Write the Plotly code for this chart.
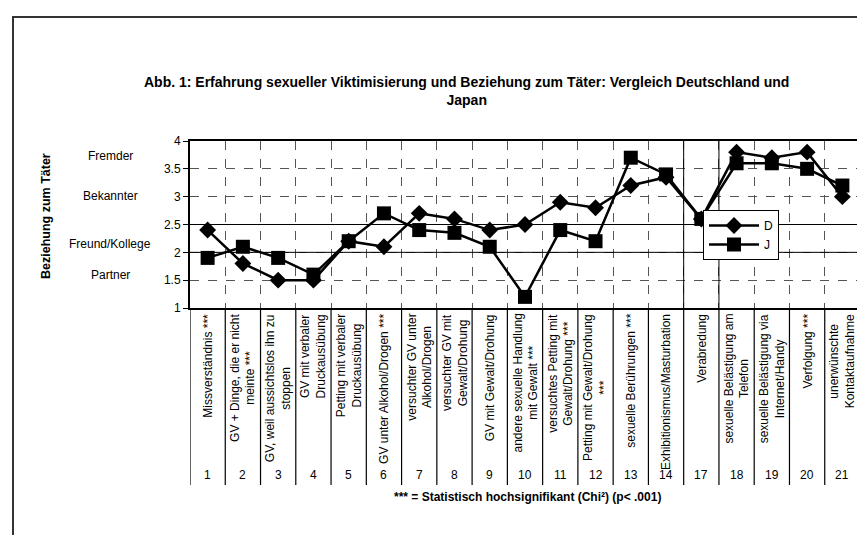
import plotly.graph_objects as go

# ---------------- data ----------------
numbers = ["1", "2", "3", "4", "5", "6", "7", "8", "9", "10", "11", "12", "13", "14",
           "17", "18", "19", "20", "21"]
categories = [
    "Missverständnis ***",
    "GV + Dinge, die er nicht<br>meinte ***",
    "GV, weil aussichtslos ihn zu<br>stoppen",
    "GV mit verbaler<br>Druckausübung",
    "Petting mit verbaler<br>Druckausübung",
    "GV unter Alkohol/Drogen ***",
    "versuchter GV unter<br>Alkohol/Drogen",
    "versuchter GV mit<br>Gewalt/Drohung",
    "GV mit Gewalt/Drohung",
    "andere sexuelle Handlung<br>mit Gewalt ***",
    "versuchtes Petting mit<br>Gewalt/Drohung ***",
    "Petting mit Gewalt/Drohung<br>***",
    "sexuelle Berührungen ***",
    "Exhibitionismus/Masturbation",
    "Verabredung",
    "sexuelle Belästigung am<br>Telefon",
    "sexuelle Belästigung via<br>Internet/Handy",
    "Verfolgung ***",
    "unerwünschte<br>Kontaktaufnahme",
]
D_values = [2.4, 1.8, 1.5, 1.5, 2.2, 2.1, 2.7, 2.6, 2.4, 2.5, 2.9, 2.8, 3.2, 3.35,
            2.6, 3.8, 3.7, 3.8, 3.0]
J_values = [1.9, 2.1, 1.9, 1.6, 2.2, 2.7, 2.4, 2.35, 2.1, 1.2, 2.4, 2.2, 3.7, 3.4,
            2.6, 3.6, 3.6, 3.5, 3.2]
y_ticks = [1, 1.5, 2, 2.5, 3, 3.5, 4]
y_ticktext = ["1", "1.5", "2", "2.5", "3", "3.5", "4"]
relation_labels = ["Fremder", "Bekannter", "Freund/Kollege", "Partner"]
relation_pos = [3.73, 3.01, 2.15, 1.6]

title_text = ("Abb. 1: Erfahrung sexueller Viktimisierung und Beziehung zum Täter: "
              "Vergleich Deutschland und<br>Japan")
footnote = "*** = Statistisch hochsignifikant (Chi²) (p< .001)"
y_title = "Beziehung zum Täter"

# ---------------- layout geometry (pixels) ----------------
W, H = 865, 535
L, R, T, B = 182, 852, 133, 300
PW, PH = R - L, B - T


def px_x(px):
    return (px - L) / PW


def px_y(py):
    return (B - py) / PH


FONT = "Liberation Sans, Arial, sans-serif"
keys = [str(i) for i in range(len(numbers))]

fig = go.Figure()
fig.add_trace(go.Scatter(
    x=keys, y=D_values, name="D", mode="lines+markers",
    line=dict(color="black", width=2.5),
    marker=dict(symbol="diamond", size=13, color="black"),
))
fig.add_trace(go.Scatter(
    x=keys, y=J_values, name="J", mode="lines+markers",
    line=dict(color="black", width=2.5),
    marker=dict(symbol="square", size=14, color="black"),
))

shapes = []
# solid horizontal gridlines
for yv in [2, 2.5]:
    shapes.append(dict(type="line", xref="paper", yref="y", x0=0, x1=1, y0=yv, y1=yv,
                       line=dict(color="black", width=1)))
# solid vertical gridlines
for xv in [13.5, 14.5]:
    shapes.append(dict(type="line", xref="x", yref="paper", x0=xv, x1=xv, y0=0, y1=1,
                       line=dict(color="black", width=1)))
# table column lines below plot
for k in range(len(numbers) + 1):
    xv = k - 0.5
    shapes.append(dict(type="line", xref="x", yref="paper", x0=xv, x1=xv,
                       y0=px_y(477), y1=0, line=dict(color="black", width=1.2)))
# outer frame
shapes.append(dict(type="rect", xref="paper", yref="paper",
                   x0=px_x(5), x1=px_x(880), y0=px_y(560), y1=px_y(9),
                   line=dict(color="#333", width=2)))

annotations = []
annotations.append(dict(text="<b>" + title_text + "</b>", xref="paper", yref="paper",
                        x=px_x(458), y=px_y(64), xanchor="center", yanchor="top",
                        showarrow=False, font=dict(family=FONT, size=14, color="black")))
annotations.append(dict(text="<b>" + footnote + "</b>", xref="paper", yref="paper",
                        x=px_x(519), y=px_y(489), xanchor="center", yanchor="middle",
                        showarrow=False, font=dict(family=FONT, size=12, color="black")))
annotations.append(dict(text="<b>" + y_title + "</b>", xref="paper", yref="paper",
                        x=px_x(38), y=px_y(208), xanchor="center", yanchor="middle",
                        textangle=-90, showarrow=False,
                        font=dict(family=FONT, size=12.5, color="black")))
for lab, pos in zip(relation_labels, relation_pos):
    annotations.append(dict(text=lab, xref="paper", yref="y", x=px_x(102), y=pos,
                            xanchor="center", yanchor="middle", showarrow=False,
                            font=dict(family=FONT, size=12, color="black")))
for k, (cat, num) in enumerate(zip(categories, numbers)):
    annotations.append(dict(text=cat, xref="x", yref="paper", x=keys[k], y=px_y(304),
                            xanchor="center", yanchor="top", textangle=-90, align="center",
                            showarrow=False, font=dict(family=FONT, size=12, color="black")))
    annotations.append(dict(text=num, xref="x", yref="paper", x=keys[k], y=px_y(467),
                            xanchor="center", yanchor="middle", showarrow=False,
                            font=dict(family=FONT, size=12, color="black")))

fig.update_layout(
    width=W, height=H,
    margin=dict(l=L, r=W - R, t=T, b=H - B, pad=0),
    paper_bgcolor="white", plot_bgcolor="white",
    font=dict(family=FONT, size=12, color="black"),
    showlegend=True,
    legend=dict(x=px_x(695), y=px_y(202), xanchor="left", yanchor="top",
                bgcolor="white", bordercolor="black", borderwidth=1,
                font=dict(family=FONT, size=12, color="black"),
                itemwidth=50, tracegroupgap=0),
    shapes=shapes,
    annotations=annotations,
)
fig.update_xaxes(type="category", categoryorder="array", categoryarray=keys,
                 range=[-0.5, len(keys) - 0.5], showticklabels=False, ticks="",
                 tickson="boundaries", showgrid=True, gridcolor="#555", gridwidth=1,
                 griddash="dash", showline=True, linecolor="black", linewidth=2,
                 mirror=True, zeroline=False)
fig.update_yaxes(range=[1, 4], tickvals=y_ticks, ticktext=y_ticktext, ticks="outside",
                 ticklen=5, tickcolor="black", showgrid=True, gridcolor="#555",
                 gridwidth=1, griddash="dash", showline=True, linecolor="black",
                 linewidth=2, mirror=True, zeroline=False,
                 tickfont=dict(family=FONT, size=12, color="black"))

fig.write_html("out.html")
